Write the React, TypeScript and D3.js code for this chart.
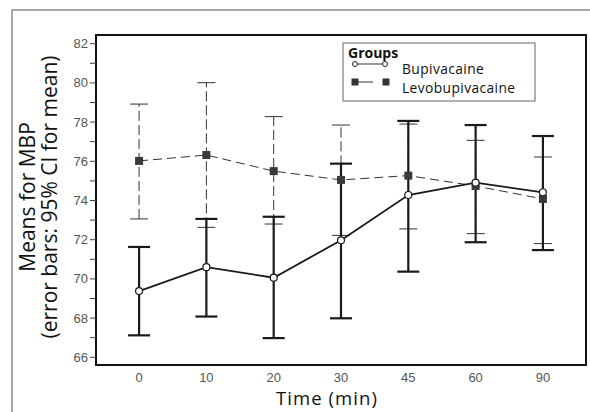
import React, { useEffect, useRef } from 'react';
import * as d3 from 'd3';

const times = ['0', '10', '20', '30', '45', '60', '90'];
const bupiMean = [69.38, 70.6, 70.06, 71.97, 74.28, 74.91, 74.42];
const bupiLow = [67.12, 68.08, 66.98, 67.99, 70.37, 71.87, 71.47];
const bupiHigh = [71.63, 73.06, 73.17, 75.88, 78.06, 77.85, 77.29];
const levoMean = [76.02, 76.32, 75.5, 75.05, 75.27, 74.74, 74.08];
const levoLow = [73.06, 72.63, 72.8, 72.22, 72.55, 72.31, 71.8];
const levoHigh = [78.92, 80.01, 78.28, 77.85, 77.9, 77.07, 76.22];
const yTicks = [66, 68, 70, 72, 74, 76, 78, 80, 82];
const yMinor = [67, 69, 71, 73, 75, 77, 79, 81];

export default function App() {
  const svgRef = useRef<SVGSVGElement>(null);

  useEffect(() => {
    const svg = d3.select(svgRef.current);
    svg.selectAll('*').remove();

    const left = 96, right = 586, top = 35, bottom = 365;
    const x = d3.scalePoint().domain(times).range([left, right]).padding(0.64);
    const y = d3.scaleLinear().domain([66, 82]).range([357.3, 43.7]);

    // outer frame
    svg.append('rect').attr('x', 12).attr('y', 10).attr('width', 600).attr('height', 420)
      .attr('fill', 'none').attr('stroke', '#8a8a8a').attr('stroke-width', 1.5);

    // plot box
    svg.append('rect').attr('x', left).attr('y', top).attr('width', right - left).attr('height', bottom - top)
      .attr('fill', 'none').attr('stroke', '#111').attr('stroke-width', 2);

    // y ticks
    const tickG = svg.append('g');
    [...yTicks, ...yMinor].forEach(v => {
      tickG.append('line').attr('x1', left - 6).attr('x2', left).attr('y1', y(v)).attr('y2', y(v))
        .attr('stroke', '#444').attr('stroke-width', 1);
    });
    yTicks.forEach(v => {
      tickG.append('text').attr('x', left - 8).attr('y', y(v)).attr('dy', '0.35em')
        .attr('text-anchor', 'end').attr('font-family', 'Liberation Sans, Arial, sans-serif')
        .attr('font-size', 13).attr('fill', '#555').text(v);
    });
    times.forEach(t => {
      tickG.append('text').attr('x', x(t)!).attr('y', 382)
        .attr('text-anchor', 'middle').attr('font-family', 'Liberation Sans, Arial, sans-serif')
        .attr('font-size', 13).attr('fill', '#555').text(t);
    });

    // axis titles
    svg.append('text').attr('x', 327).attr('y', 405).attr('text-anchor', 'middle')
      .attr('font-family', 'Open Sans, sans-serif').attr('font-size', 18.5).attr('letter-spacing', 1.1)
      .attr('fill', '#111').text('Time (min)');
    const yt = svg.append('text').attr('transform', 'translate(0,197) rotate(-90)')
      .attr('text-anchor', 'middle').attr('font-family', 'Open Sans, sans-serif')
      .attr('font-size', 21).attr('fill', '#111');
    yt.append('tspan').attr('x', 0).attr('y', 35).text('Means for MBP');
    yt.append('tspan').attr('x', 0).attr('y', 57).text('(error bars: 95% CI for mean)');

    const cap = 9;
    // Levobupivacaine error bars (dashed, thin)
    const lg = svg.append('g');
    times.forEach((t, i) => {
      const cx = x(t)!;
      lg.append('line').attr('x1', cx).attr('x2', cx).attr('y1', y(levoLow[i])).attr('y2', y(levoHigh[i]))
        .attr('stroke', '#333').attr('stroke-width', 1).attr('stroke-dasharray', '10,4');
      [levoLow[i], levoHigh[i]].forEach(v => {
        lg.append('line').attr('x1', cx - cap).attr('x2', cx + cap).attr('y1', y(v)).attr('y2', y(v))
          .attr('stroke', '#333').attr('stroke-width', 1);
      });
    });
    const line = d3.line<number>().x((_, i) => x(times[i])!).y(d => y(d));
    lg.append('path').attr('d', line(levoMean)).attr('fill', 'none').attr('stroke', '#333')
      .attr('stroke-width', 1).attr('stroke-dasharray', '9,5');

    // Bupivacaine error bars (solid, thick)
    const bg = svg.append('g');
    times.forEach((t, i) => {
      const cx = x(t)!;
      bg.append('line').attr('x1', cx).attr('x2', cx).attr('y1', y(bupiLow[i])).attr('y2', y(bupiHigh[i]))
        .attr('stroke', '#1a1a1a').attr('stroke-width', 2.2);
      [bupiLow[i], bupiHigh[i]].forEach(v => {
        bg.append('line').attr('x1', cx - 11).attr('x2', cx + 11).attr('y1', y(v)).attr('y2', y(v))
          .attr('stroke', '#1a1a1a').attr('stroke-width', 2.2);
      });
    });
    bg.append('path').attr('d', line(bupiMean)).attr('fill', 'none').attr('stroke', '#1a1a1a')
      .attr('stroke-width', 1.8);

    // markers
    svg.append('g').selectAll('rect').data(levoMean).enter().append('rect')
      .attr('x', (_, i) => x(times[i])! - 4).attr('y', d => y(d) - 4)
      .attr('width', 8).attr('height', 8).attr('fill', '#3a3a3a');
    svg.append('g').selectAll('circle').data(bupiMean).enter().append('circle')
      .attr('cx', (_, i) => x(times[i])!).attr('cy', d => y(d)).attr('r', 3.5)
      .attr('fill', '#fff').attr('stroke', '#1a1a1a').attr('stroke-width', 1.2);

    // legend
    const leg = svg.append('g');
    leg.append('rect').attr('x', 343).attr('y', 43).attr('width', 192).attr('height', 58)
      .attr('fill', '#fff').attr('stroke', '#666').attr('stroke-width', 1);
    leg.append('text').attr('x', 348).attr('y', 58).attr('font-family', 'Open Sans, sans-serif')
      .attr('font-weight', 'bold').attr('font-size', 14).attr('fill', '#111').text('Groups');
    leg.append('line').attr('x1', 355).attr('x2', 385).attr('y1', 64).attr('y2', 64)
      .attr('stroke', '#333').attr('stroke-width', 1);
    [355, 385].forEach(cx => {
      leg.append('circle').attr('cx', cx).attr('cy', 64).attr('r', 2.5).attr('fill', '#fff')
        .attr('stroke', '#222').attr('stroke-width', 1);
    });
    leg.append('line').attr('x1', 355).attr('x2', 373).attr('y1', 82).attr('y2', 82)
      .attr('stroke', '#333').attr('stroke-width', 1);
    [355, 386].forEach(cx => {
      leg.append('rect').attr('x', cx - 3.5).attr('y', 78.5).attr('width', 7).attr('height', 7)
        .attr('fill', '#333');
    });
    leg.append('text').attr('x', 402).attr('y', 74).attr('font-family', 'Open Sans, sans-serif')
      .attr('font-size', 13.8).attr('letter-spacing', 0.4).attr('fill', '#111').text('Bupivacaine');
    leg.append('text').attr('x', 402).attr('y', 93).attr('font-family', 'Open Sans, sans-serif')
      .attr('font-size', 13.8).attr('letter-spacing', 0.4).attr('fill', '#111').text('Levobupivacaine');
  }, []);

  return (
    <svg ref={svgRef} width={590} height={412}
      style={{ position: 'absolute', left: 0, top: 0, background: '#fff' }} />
  );
}
